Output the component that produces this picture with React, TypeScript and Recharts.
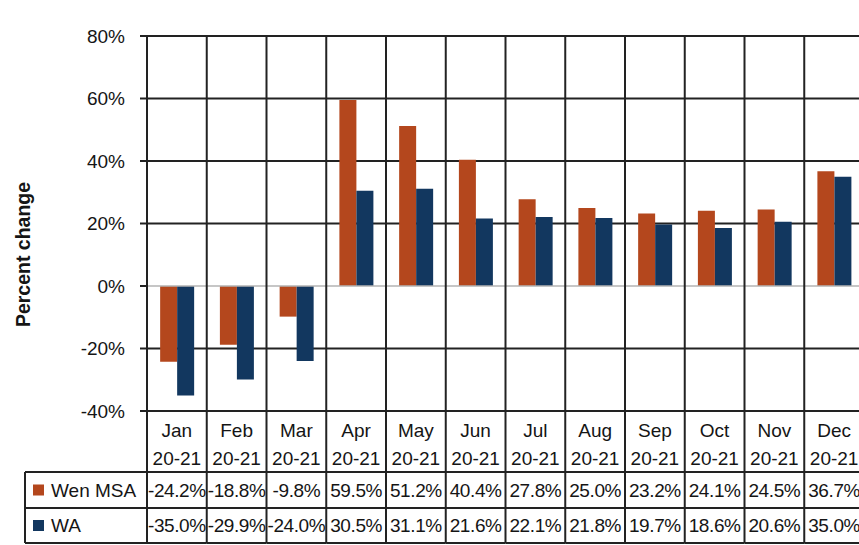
import { BarChart, Bar, XAxis, YAxis, CartesianGrid, ReferenceLine } from "recharts";

const MONTHS = ["Jan", "Feb", "Mar", "Apr", "May", "Jun", "Jul", "Aug", "Sep", "Oct", "Nov", "Dec"];
const PERIOD = "20-21";
const WEN_MSA = [-24.2, -18.8, -9.8, 59.5, 51.2, 40.4, 27.8, 25.0, 23.2, 24.1, 24.5, 36.7];
const WA = [-35.0, -29.9, -24.0, 30.5, 31.1, 21.6, 22.1, 21.8, 19.7, 18.6, 20.6, 35.0];
const Y_TICKS = [-40, -20, 0, 20, 40, 60, 80];

const RUST = "#B4471D";
const NAVY = "#12375F";
const GRID = "#222";
const TEXT = "#151515";
const FONT = "'Liberation Sans', Arial, sans-serif";

const WIDTH = 870;
const HEIGHT = 545;
const MARGIN = { top: 36, right: 6, bottom: 0, left: 0 };
const Y_AXIS_W = 147;
const X_AXIS_H = 134;
const PLOT_H = HEIGHT - MARGIN.top - MARGIN.bottom - X_AXIS_H;
const COL_W = (WIDTH - MARGIN.left - MARGIN.right - Y_AXIS_W) / MONTHS.length;

// data table row edges, measured down from the bottom of the plot
const HEAD_BOT = 61;
const ROW1_BOT = 97;
const ROW2_BOT = 132;
const LEGEND_LEFT = 25;

const SERIES = [
  { key: "wen", name: "Wen MSA", color: RUST, values: WEN_MSA },
  { key: "wa", name: "WA", color: NAVY, values: WA },
];

const data = MONTHS.map((month, i) => ({ month, wen: WEN_MSA[i], wa: WA[i] }));

const fmt = (v: number) => `${v.toFixed(1)}%`;

function TableColumn(props: any) {
  const { x, y, payload, index } = props;
  const half = payload && payload.offset > 0 ? payload.offset : COL_W / 2;
  const left = x - half;
  const right = x + half;
  const rowMid = [(HEAD_BOT + ROW1_BOT) / 2, (ROW1_BOT + ROW2_BOT) / 2];
  const txt = { fontFamily: FONT, fontSize: 19, fill: TEXT, dominantBaseline: "central" as const };
  return (
    <g>
      <line x1={left} x2={left} y1={y - PLOT_H} y2={y + ROW2_BOT} stroke={GRID} strokeWidth={2} />
      {index === MONTHS.length - 1 && (
        <line x1={right} x2={right} y1={y - PLOT_H} y2={y + ROW2_BOT} stroke={GRID} strokeWidth={2} />
      )}
      <text x={x} y={y + 19} textAnchor="middle" {...txt}>{payload.value}</text>
      <text x={x} y={y + 47} textAnchor="middle" {...txt}>{PERIOD}</text>
      {[HEAD_BOT, ROW1_BOT, ROW2_BOT].map((dy) => (
        <line key={dy} x1={left} x2={right} y1={y + dy} y2={y + dy} stroke={GRID} strokeWidth={2} />
      ))}
      {SERIES.map((s, r) => (
        <text key={s.key} x={x} y={y + rowMid[r]} textAnchor="middle" letterSpacing={-0.4} {...txt}>
          {fmt(s.values[index])}
        </text>
      ))}
      {index === 0 && (
        <g>
          <line x1={LEGEND_LEFT} x2={LEGEND_LEFT} y1={y + HEAD_BOT} y2={y + ROW2_BOT} stroke={GRID} strokeWidth={2} />
          {[HEAD_BOT, ROW1_BOT, ROW2_BOT].map((dy) => (
            <line key={dy} x1={LEGEND_LEFT} x2={left} y1={y + dy} y2={y + dy} stroke={GRID} strokeWidth={2} />
          ))}
          {SERIES.map((s, r) => (
            <g key={s.key}>
              <rect x={LEGEND_LEFT + 8} y={y + rowMid[r] - 5.5} width={11} height={11} fill={s.color} />
              <text x={LEGEND_LEFT + 26} y={y + rowMid[r]} {...txt}>{s.name}</text>
            </g>
          ))}
        </g>
      )}
    </g>
  );
}

function AxisTitle(props: any) {
  const vb = props.viewBox || { x: 0, y: MARGIN.top, width: Y_AXIS_W, height: PLOT_H };
  const cx = vb.x + 23;
  const cy = vb.y + vb.height / 2 + 31;
  return (
    <text x={cx} y={cy} transform={`rotate(-90, ${cx}, ${cy})`} textAnchor="middle" dominantBaseline="central"
      fontFamily={FONT} fontSize={19.5} fontWeight={700} fill={TEXT}>
      Percent change
    </text>
  );
}

export default function App() {
  return (
    <div style={{ position: "absolute", left: 0, top: 0, width: 859, height: 545, overflow: "hidden", background: "#fff" }}>
      <BarChart width={WIDTH} height={HEIGHT} data={data} margin={MARGIN} barCategoryGap="22%" barGap={0}>
        <CartesianGrid horizontal vertical={false} horizontalValues={[-40, -20, 20, 40, 60, 80]} stroke={GRID} strokeWidth={2} />
        <XAxis dataKey="month" height={X_AXIS_H} interval={0} tickLine={false} axisLine={false} tickSize={0} tickMargin={0}
          tick={(p: any) => <TableColumn {...p} />} />
        <YAxis type="number" domain={[-40, 80]} ticks={Y_TICKS} width={Y_AXIS_W} interval={0}
          tickFormatter={(v: number) => `${v}%`} tickSize={7} tickMargin={15}
          tick={{ fontFamily: FONT, fontSize: 19, fill: TEXT }}
          tickLine={{ stroke: GRID, strokeWidth: 2 }} axisLine={{ stroke: GRID, strokeWidth: 2 }}
          label={(p: any) => <AxisTitle {...p} />} />
        <ReferenceLine y={0} stroke="#b3b3b3" strokeWidth={1.5} />
        {SERIES.map((s) => (
          <Bar key={s.key} dataKey={s.key} name={s.name} fill={s.color} isAnimationActive={false} />
        ))}
      </BarChart>
    </div>
  );
}
